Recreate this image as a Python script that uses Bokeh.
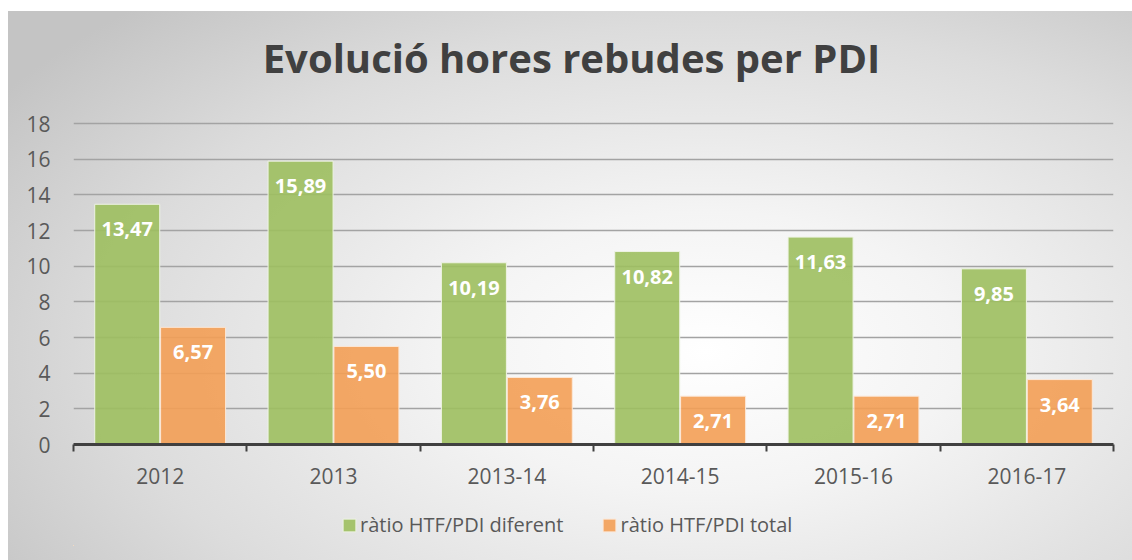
from bokeh.plotting import figure
from bokeh.layouts import column
from bokeh.models import (ColumnDataSource, Range1d, FixedTicker, Legend, LegendItem,
                          Label, LabelSet)
from bokeh.embed import file_html
from bokeh.resources import INLINE
from bokeh.core.properties import value

title_text = "Evolució hores rebudes per PDI"
categories = ["2012", "2013", "2013-14", "2014-15", "2015-16", "2016-17"]
ratio_diferent = [13.47, 15.89, 10.19, 10.82, 11.63, 9.85]
ratio_total = [6.57, 5.50, 3.76, 2.71, 2.71, 3.64]
series_names = ["ràtio HTF/PDI diferent", "ràtio HTF/PDI total"]
y_ticks = [0, 2, 4, 6, 8, 10, 12, 14, 16, 18]

GREEN = "#9DBF5F"
ORANGE = "#F39E55"
TXT = "#595959"
FONT = "Open Sans"

n = len(categories)
centers = [i + 0.5 for i in range(n)]
bw = 0.375
off = 0.19
ppu = 321 / 18  # pixels per unit on the value axis

def fmt(v):
    return f"{v:.2f}".replace(".", ",")

src_a = ColumnDataSource(dict(x=[c - off for c in centers], top=ratio_diferent,
                              lab=[fmt(v) for v in ratio_diferent]))
src_b = ColumnDataSource(dict(x=[c + off for c in centers], top=ratio_total,
                              lab=[fmt(v) for v in ratio_total]))

y_top = 18 + 112 / ppu

p = figure(width=1124, height=500, output_backend="svg", toolbar_location=None,
           x_range=Range1d(0, n), y_range=Range1d(0, y_top),
           min_border_left=65, min_border_right=19, min_border_top=0, min_border_bottom=67)
p.border_fill_color = None
p.background_fill_color = None
p.outline_line_color = None

r_a = p.vbar(x="x", top="top", width=bw, source=src_a, fill_color=GREEN, fill_alpha=0.9,
             line_color="#eef3e4", line_width=1)
r_b = p.vbar(x="x", top="top", width=bw, source=src_b, fill_color=ORANGE, fill_alpha=0.9,
             line_color="#fce8d8", line_width=1)

for s in (src_a, src_b):
    p.add_layout(LabelSet(x="x", y="top", text="lab", source=s, text_color="white",
                          text_font=value(FONT), text_font_style="bold", text_font_size="20px",
                          text_align="center", text_baseline="middle", y_offset=-25))

xa = p.xaxis[0]
xa.ticker = FixedTicker(ticks=centers, minor_ticks=list(range(n + 1)))
xa.major_label_overrides = {c: cat for c, cat in zip(centers, categories)}
xa.major_tick_line_color = None
xa.major_tick_out = 0
xa.major_tick_in = 0
xa.minor_tick_line_color = "#404040"
xa.minor_tick_line_width = 2
xa.minor_tick_out = 7
xa.minor_tick_in = 0
xa.axis_line_color = "#404040"
xa.axis_line_width = 3
xa.major_label_standoff = 16
xa.major_label_text_font = FONT
xa.major_label_text_font_size = "21px"
xa.major_label_text_color = TXT

ya = p.yaxis[0]
ya.ticker = FixedTicker(ticks=y_ticks)
ya.axis_line_color = None
ya.major_tick_line_color = None
ya.minor_tick_line_color = None
ya.major_tick_out = 0
ya.major_label_standoff = 23
ya.major_label_text_font = FONT
ya.major_label_text_font_size = "21px"
ya.major_label_text_color = TXT

p.xgrid.grid_line_color = None
p.ygrid.grid_line_color = "#a3a3a3"
p.ygrid.grid_line_width = 1.5
p.ygrid.ticker = FixedTicker(ticks=y_ticks)

p.add_layout(Label(x=(571 - 73) / (1040 / n), y=18 + (123 - 57) / ppu, text=title_text,
                   text_align="center", text_baseline="middle", text_font=FONT,
                   text_font_style="bold", text_font_size="40px", text_color="#404040"))

# legend strip (bars of the same sources sit far outside its visible ranges);
# its frame is aligned with the chart frame by the column layout
q = figure(width=1124, height=49, output_backend="svg", toolbar_location=None,
           x_range=Range1d(100, 101), y_range=Range1d(100, 101),
           x_axis_location=None, y_axis_location=None,
           min_border_left=65, min_border_right=19, min_border_top=0, min_border_bottom=15)
q.grid.visible = False
q.border_fill_color = None
q.background_fill_color = None
q.outline_line_color = None
la = q.vbar(x="x", top="top", width=bw, source=src_a, fill_color=GREEN, fill_alpha=0.9,
            line_color="#eef3e4")
lb = q.vbar(x="x", top="top", width=bw, source=src_b, fill_color=ORANGE, fill_alpha=0.9,
            line_color="#fce8d8")
legend = Legend(items=[LegendItem(label=series_names[0], renderers=[la]),
                       LegendItem(label=series_names[1], renderers=[lb])],
                orientation="horizontal", location=(268, 7), padding=0, margin=0,
                spacing=38, glyph_width=16, glyph_height=16, label_standoff=3,
                label_height=20, border_line_color=None, background_fill_alpha=0,
                label_text_font=FONT, label_text_font_size="20px", label_text_color=TXT)
q.add_layout(legend)

layout = column(p, q, spacing=0)
layout.margin = (11, 0, 0, 8)
layout.styles = {"background": "radial-gradient(ellipse 75% 85% at 62% 62%, #ffffff 0%, #f4f4f4 30%, #dcdcdc 70%, #c4c4c4 100%)"}

open("out.html", "w").write(file_html(layout, INLINE))
